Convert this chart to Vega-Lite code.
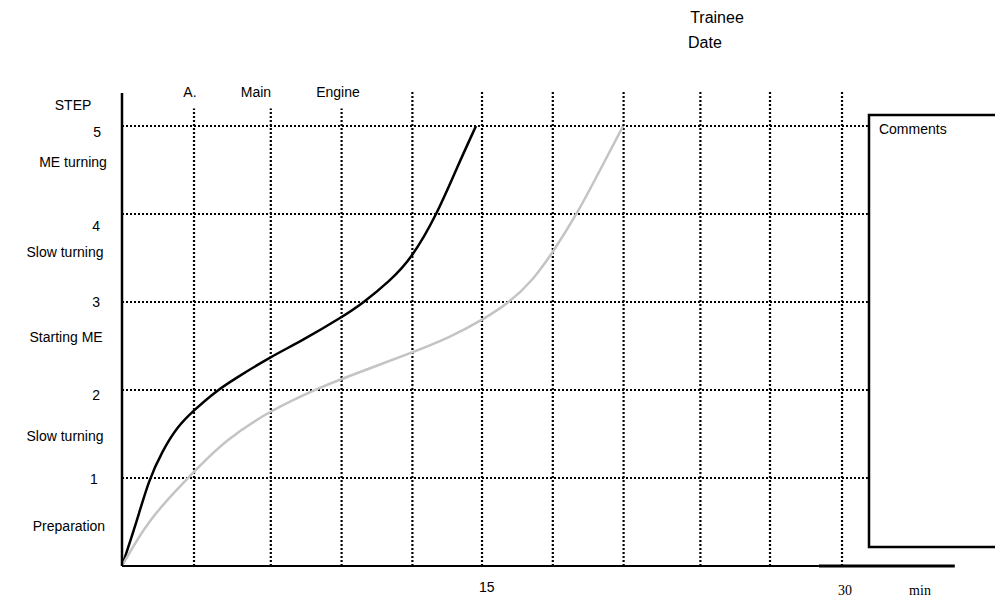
{
  "$schema": "https://vega.github.io/schema/vega-lite/v6.json",
  "width": 995,
  "height": 598,
  "autosize": {"type": "none"},
  "padding": 0,
  "background": "white",
  "config": {"view": {"stroke": null}},
  "datasets": {
    "curves": [
      {"series": "black", "minute": 0, "step": 0},
      {"series": "black", "minute": 0.54, "step": 0.44},
      {"series": "black", "minute": 1.13, "step": 0.99},
      {"series": "black", "minute": 1.67, "step": 1.3},
      {"series": "black", "minute": 2.29, "step": 1.58},
      {"series": "black", "minute": 3.0, "step": 1.77},
      {"series": "black", "minute": 3.88, "step": 1.98},
      {"series": "black", "minute": 4.71, "step": 2.13},
      {"series": "black", "minute": 6.21, "step": 2.38},
      {"series": "black", "minute": 7.5, "step": 2.56},
      {"series": "black", "minute": 9.17, "step": 2.83},
      {"series": "black", "minute": 10.0, "step": 2.98},
      {"series": "black", "minute": 11.17, "step": 3.24},
      {"series": "black", "minute": 12.08, "step": 3.5},
      {"series": "black", "minute": 13.13, "step": 4.0},
      {"series": "black", "minute": 13.96, "step": 4.53},
      {"series": "black", "minute": 14.75, "step": 5.0},
      {"series": "gray", "minute": 0, "step": 0},
      {"series": "gray", "minute": 1.08, "step": 0.52},
      {"series": "gray", "minute": 2.71, "step": 0.99},
      {"series": "gray", "minute": 3.0, "step": 1.07},
      {"series": "gray", "minute": 4.29, "step": 1.43},
      {"series": "gray", "minute": 6.21, "step": 1.77},
      {"series": "gray", "minute": 7.92, "step": 1.99},
      {"series": "gray", "minute": 9.17, "step": 2.13},
      {"series": "gray", "minute": 12.13, "step": 2.43},
      {"series": "gray", "minute": 13.67, "step": 2.6},
      {"series": "gray", "minute": 15.04, "step": 2.8},
      {"series": "gray", "minute": 16.17, "step": 3.0},
      {"series": "gray", "minute": 17.13, "step": 3.25},
      {"series": "gray", "minute": 17.96, "step": 3.57},
      {"series": "gray", "minute": 18.96, "step": 4.0},
      {"series": "gray", "minute": 19.92, "step": 4.5},
      {"series": "gray", "minute": 20.88, "step": 5.0}
    ],
    "hgrid": [{"step": 1}, {"step": 2}, {"step": 3}, {"step": 4}, {"step": 5}],
    "vgridShort": [{"minute": 3}, {"minute": 6.2}, {"minute": 9.15}],
    "vgrid": [
      {"minute": 12.1}, {"minute": 15},
      {"minute": 17.95}, {"minute": 20.9}, {"minute": 24.1}, {"minute": 27}, {"minute": 30}
    ],
    "sans": [
      {"minute": -2.04, "step": 5.227, "label": "STEP"},
      {"minute": -1.04, "step": 4.92, "label": "5"},
      {"minute": -2.04, "step": 4.58, "label": "ME turning"},
      {"minute": -1.08, "step": 3.85, "label": "4"},
      {"minute": -2.375, "step": 3.557, "label": "Slow turning"},
      {"minute": -1.08, "step": 2.99, "label": "3"},
      {"minute": -2.33, "step": 2.59, "label": "Starting ME"},
      {"minute": -1.08, "step": 1.93, "label": "2"},
      {"minute": -2.375, "step": 1.466, "label": "Slow turning"},
      {"minute": -1.17, "step": 0.977, "label": "1"},
      {"minute": -2.21, "step": 0.443, "label": "Preparation"},
      {"minute": 2.83, "step": 5.375, "label": "A."},
      {"minute": 5.58, "step": 5.375, "label": "Main"},
      {"minute": 9.0, "step": 5.375, "label": "Engine"},
      {"minute": 15.2, "step": -0.25, "label": "15"}
    ],
    "big": [
      {"minute": 24.79, "step": 6.227, "label": "Trainee"},
      {"minute": 24.29, "step": 5.943, "label": "Date"}
    ],
    "serif": [
      {"minute": 30.125, "step": -0.284, "label": "30"},
      {"minute": 33.25, "step": -0.284, "label": "min"}
    ],
    "note": [
      {"minute": 31.54, "step": 4.955, "label": "Comments"}
    ]
  },
  "layer": [
    {
      "data": {"name": "hgrid"},
      "mark": {"type": "rule", "strokeWidth": 2.2, "strokeDash": [2, 2], "color": "#000000"},
      "encoding": {
        "y": {"field": "step", "type": "quantitative", "scale": {"domain": [-0.3636, 6.4318], "nice": false, "zero": false}, "axis": null},
        "x": {"datum": 0, "type": "quantitative", "scale": {"domain": [-5.0833, 36.375], "nice": false, "zero": false}, "axis": null},
        "x2": {"datum": 31.08}
      }
    },
    {
      "data": {"name": "vgrid"},
      "mark": {"type": "rule", "strokeWidth": 2.2, "strokeDash": [2, 2], "color": "#000000"},
      "encoding": {
        "x": {"field": "minute", "type": "quantitative"},
        "y": {"datum": 0, "type": "quantitative"},
        "y2": {"datum": 5.41}
      }
    },
    {
      "data": {"name": "vgridShort"},
      "mark": {"type": "rule", "strokeWidth": 2.2, "strokeDash": [2, 2], "color": "#000000"},
      "encoding": {
        "x": {"field": "minute", "type": "quantitative"},
        "y": {"datum": 0, "type": "quantitative"},
        "y2": {"datum": 5.2}
      }
    },
    {
      "data": {"name": "curves"},
      "mark": {"type": "line", "interpolate": "basis", "strokeWidth": 2.5},
      "encoding": {
        "x": {"field": "minute", "type": "quantitative"},
        "y": {"field": "step", "type": "quantitative"},
        "color": {"field": "series", "type": "nominal", "scale": {"domain": ["black", "gray"], "range": ["#000000", "#c4c4c4"]}, "legend": null},
        "order": {"field": "minute", "type": "quantitative"}
      }
    },
    {
      "data": {"values": [{}]},
      "mark": {"type": "rule", "strokeWidth": 2.5, "color": "#000000"},
      "encoding": {
        "x": {"datum": 0, "type": "quantitative"},
        "y": {"datum": 0, "type": "quantitative"},
        "y2": {"datum": 5.375}
      }
    },
    {
      "data": {"values": [{}]},
      "mark": {"type": "rule", "strokeWidth": 1.8, "color": "#000000"},
      "encoding": {
        "y": {"datum": 0, "type": "quantitative"},
        "x": {"datum": 0, "type": "quantitative"},
        "x2": {"datum": 29.04}
      }
    },
    {
      "data": {"values": [{}]},
      "mark": {"type": "rule", "strokeWidth": 3, "color": "#000000"},
      "encoding": {
        "y": {"datum": 0, "type": "quantitative"},
        "x": {"datum": 29.04, "type": "quantitative"},
        "x2": {"datum": 34.7}
      }
    },
    {
      "data": {"values": [{}]},
      "mark": {"type": "rect", "fill": null, "fillOpacity": 0, "stroke": "#000000", "strokeWidth": 2.5},
      "encoding": {
        "x": {"datum": 31.125, "type": "quantitative"},
        "x2": {"datum": 37.5},
        "y": {"datum": 0.216, "type": "quantitative"},
        "y2": {"datum": 5.125}
      }
    },
    {
      "data": {"name": "sans"},
      "mark": {"type": "text", "font": "Liberation Sans", "fontSize": 14, "align": "center", "baseline": "middle", "color": "#000000"},
      "encoding": {
        "x": {"field": "minute", "type": "quantitative"},
        "y": {"field": "step", "type": "quantitative"},
        "text": {"field": "label"}
      }
    },
    {
      "data": {"name": "big"},
      "mark": {"type": "text", "font": "Liberation Sans", "fontSize": 16, "align": "center", "baseline": "middle", "color": "#000000"},
      "encoding": {
        "x": {"field": "minute", "type": "quantitative"},
        "y": {"field": "step", "type": "quantitative"},
        "text": {"field": "label"}
      }
    },
    {
      "data": {"name": "serif"},
      "mark": {"type": "text", "font": "Liberation Serif", "fontSize": 14, "align": "center", "baseline": "middle", "color": "#000000"},
      "encoding": {
        "x": {"field": "minute", "type": "quantitative"},
        "y": {"field": "step", "type": "quantitative"},
        "text": {"field": "label"}
      }
    },
    {
      "data": {"name": "note"},
      "mark": {"type": "text", "font": "Liberation Sans", "fontSize": 14, "align": "left", "baseline": "middle", "color": "#000000", "letterSpacing": -0.5},
      "encoding": {
        "x": {"field": "minute", "type": "quantitative"},
        "y": {"field": "step", "type": "quantitative"},
        "text": {"field": "label"}
      }
    }
  ]
}
